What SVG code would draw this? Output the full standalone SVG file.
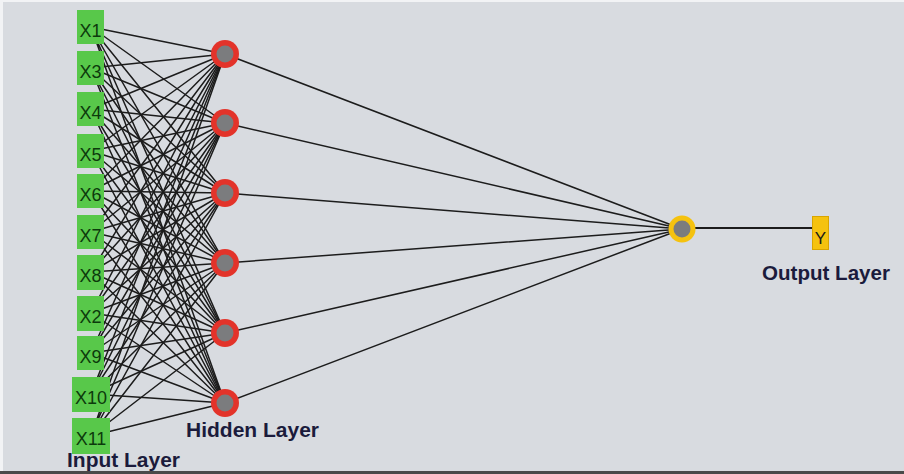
<svg xmlns="http://www.w3.org/2000/svg" width="904" height="474" viewBox="0 0 904 474">
<style>
.bg{fill:#d8dbe0}
.edge{stroke:#1c1c1c;stroke-width:1.5;fill:none}
.inbox{fill:#58c84a}
.intext{font-family:"Liberation Sans",Arial,sans-serif;font-size:18px;fill:#0c3a0c;text-anchor:middle}
.hring{fill:#e3332a}
.core{fill:#7b7c7e}
.oring{fill:#f5c20f}
.ybox{fill:#f5c20f;stroke:#d9a500;stroke-width:1}
.label{font-family:"Liberation Sans",Arial,sans-serif;font-size:20px;font-weight:bold;fill:#1b1b3c}
</style>
<rect class="bg" x="0" y="0" width="904" height="474"/>
<rect x="0" y="0" width="904" height="2" fill="#f2f3f5"/>
<rect x="0" y="0" width="3" height="474" fill="#f2f3f5"/>
<rect x="0" y="471" width="904" height="3" fill="#4a4a4a"/>
<g id="connectors">
<g class="edge">
<path d="M91 27L225 54M91 27L225 123M91 27L225 193M91 27L225 263M91 27L225 333M91 27L225 403"/>
<path d="M91 68L225 54M91 68L225 123M91 68L225 193M91 68L225 263M91 68L225 333M91 68L225 403"/>
<path d="M91 109L225 54M91 109L225 123M91 109L225 193M91 109L225 263M91 109L225 333M91 109L225 403"/>
<path d="M91 151L225 54M91 151L225 123M91 151L225 193M91 151L225 263M91 151L225 333M91 151L225 403"/>
<path d="M91 191L225 54M91 191L225 123M91 191L225 193M91 191L225 263M91 191L225 333M91 191L225 403"/>
<path d="M91 232L225 54M91 232L225 123M91 232L225 193M91 232L225 263M91 232L225 333M91 232L225 403"/>
<path d="M91 272L225 54M91 272L225 123M91 272L225 193M91 272L225 263M91 272L225 333M91 272L225 403"/>
<path d="M91 313L225 54M91 313L225 123M91 313L225 193M91 313L225 263M91 313L225 333M91 313L225 403"/>
<path d="M91 353L225 54M91 353L225 123M91 353L225 193M91 353L225 263M91 353L225 333M91 353L225 403"/>
<path d="M91 394L225 54M91 394L225 123M91 394L225 193M91 394L225 263M91 394L225 333M91 394L225 403"/>
<path d="M91 436L225 54M91 436L225 123M91 436L225 193M91 436L225 263M91 436L225 333M91 436L225 403"/>
<path d="M225 54L682 229M225 123L682 229M225 193L682 229M225 263L682 229M225 333L682 229M225 403L682 229"/>
<path d="M682 228L812 228" stroke-width="2"/>
</g>
</g>
<g id="in-X1"><rect class="inbox" x="77" y="10" width="27" height="34"/><text class="intext" x="90.5" y="37">X1</text></g>
<g id="in-X3"><rect class="inbox" x="77" y="51" width="27" height="34"/><text class="intext" x="90.5" y="78">X3</text></g>
<g id="in-X4"><rect class="inbox" x="77" y="92" width="27" height="34"/><text class="intext" x="90.5" y="119">X4</text></g>
<g id="in-X5"><rect class="inbox" x="77" y="134" width="27" height="34"/><text class="intext" x="90.5" y="161">X5</text></g>
<g id="in-X6"><rect class="inbox" x="77" y="174" width="27" height="34"/><text class="intext" x="90.5" y="201">X6</text></g>
<g id="in-X7"><rect class="inbox" x="77" y="215" width="27" height="34"/><text class="intext" x="90.5" y="242">X7</text></g>
<g id="in-X8"><rect class="inbox" x="77" y="255" width="27" height="35"/><text class="intext" x="90.5" y="282">X8</text></g>
<g id="in-X2"><rect class="inbox" x="77" y="296" width="27" height="35"/><text class="intext" x="90.5" y="323">X2</text></g>
<g id="in-X9"><rect class="inbox" x="77" y="336" width="27" height="34"/><text class="intext" x="90.5" y="363">X9</text></g>
<g id="in-X10"><rect class="inbox" x="72" y="377" width="38" height="35"/><text class="intext" x="91" y="404">X10</text></g>
<g id="in-X11"><rect class="inbox" x="72" y="418" width="38" height="36"/><text class="intext" x="91" y="445">X11</text></g>
<g id="hidden-1"><circle class="hring" cx="225" cy="54" r="14"/><circle class="core" cx="225" cy="54" r="8.5"/></g>
<g id="hidden-2"><circle class="hring" cx="225" cy="123" r="14"/><circle class="core" cx="225" cy="123" r="8.5"/></g>
<g id="hidden-3"><circle class="hring" cx="225" cy="193" r="14"/><circle class="core" cx="225" cy="193" r="8.5"/></g>
<g id="hidden-4"><circle class="hring" cx="225" cy="263" r="14"/><circle class="core" cx="225" cy="263" r="8.5"/></g>
<g id="hidden-5"><circle class="hring" cx="225" cy="333" r="14"/><circle class="core" cx="225" cy="333" r="8.5"/></g>
<g id="hidden-6"><circle class="hring" cx="225" cy="403" r="14"/><circle class="core" cx="225" cy="403" r="8.5"/></g>
<g id="output"><circle class="oring" cx="682" cy="229" r="13.5"/><circle class="core" cx="682" cy="229" r="8.5"/></g>
<g id="y-node"><rect class="ybox" x="812.5" y="216.5" width="16" height="33"/><text x="820.5" y="244" font-family="'Liberation Sans',Arial,sans-serif" font-size="17" fill="#1a1a1a" text-anchor="middle">Y</text></g>
<g id="labels">
<text class="label" x="762" y="280" textLength="128" lengthAdjust="spacingAndGlyphs">Output Layer</text>
<text class="label" x="186" y="437" textLength="133" lengthAdjust="spacingAndGlyphs">Hidden Layer</text>
<text class="label" x="67" y="467" textLength="113" lengthAdjust="spacingAndGlyphs">Input Layer</text>
</g>
</svg>
